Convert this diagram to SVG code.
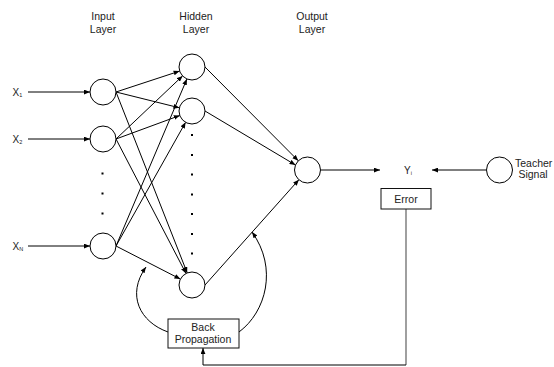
<svg xmlns="http://www.w3.org/2000/svg" width="554" height="367" viewBox="0 0 554 367">
<style>
text{font-family:"Liberation Sans",Arial,sans-serif;font-size:10.5px;fill:#222;text-anchor:middle}
.n{fill:#fff;stroke:#000;stroke-width:1}
.c{fill:none;stroke:#000;stroke-width:1;marker-end:url(#ah)}
.b{fill:#fff;stroke:#111;stroke-width:1}
.dot{fill:#000}
.sub{font-size:5.5px}
.x{font-size:10px;text-anchor:start}
</style>
<defs>
<marker id="ah" viewBox="0 0 10 8" refX="10" refY="4" markerWidth="6" markerHeight="5" markerUnits="userSpaceOnUse" orient="auto">
<path d="M0,0 L10,4 L0,8 z" fill="#000"/>
</marker>
</defs>
<rect width="554" height="367" fill="#fff"/>
<g id="labels">
<text x="103" y="19.5">Input</text><text x="103" y="32.5">Layer</text>
<text x="196" y="19.5">Hidden</text><text x="196" y="32.5">Layer</text>
<text x="312" y="19.5">Output</text><text x="312" y="32.5">Layer</text>
<text class="x" x="12.5" y="96">X<tspan class="sub" dy="0.5">1</tspan></text>
<text class="x" x="12.5" y="143">X<tspan class="sub" dy="0.5">2</tspan></text>
<text class="x" x="12.5" y="250">X<tspan class="sub" dy="0.5">N</tspan></text>
<text x="408" y="174" style="font-size:10px">Y<tspan class="sub" dy="1">i</tspan></text>
</g>
<g id="connectors">
<line class="c" x1="28" y1="92" x2="90" y2="92"/>
<line class="c" x1="28" y1="139" x2="90" y2="139"/>
<line class="c" x1="28" y1="246" x2="90" y2="246"/>
<line class="c" x1="116" y1="92" x2="179.6" y2="71.1"/>
<line class="c" x1="116" y1="92" x2="179.4" y2="107.8"/>
<line class="c" x1="116" y1="92" x2="187.2" y2="272.9"/>
<line class="c" x1="116" y1="139" x2="182.6" y2="75.9"/>
<line class="c" x1="116" y1="139" x2="179.8" y2="115.5"/>
<line class="c" x1="116" y1="139" x2="186" y2="273.5"/>
<line class="c" x1="116" y1="246" x2="186.9" y2="79"/>
<line class="c" x1="116" y1="246" x2="185.6" y2="122.3"/>
<line class="c" x1="116" y1="246" x2="180.4" y2="279.1"/>
<line class="c" x1="205" y1="67" x2="298.3" y2="160.8"/>
<line class="c" x1="205" y1="111" x2="295.5" y2="165"/>
<line class="c" x1="205" y1="285" x2="298.9" y2="179.7"/>
<line class="c" x1="321" y1="170" x2="380" y2="170"/>
<line class="c" x1="486" y1="170" x2="432" y2="170"/>
<path class="c" d="M168,332 C140,322 126,295 146,267"/>
<path class="c" d="M239,332 C266,312 278,268 252,232"/>
<path d="M406,209 L406,365" fill="none" stroke="#777" stroke-width="1.4"/>
<path class="c" d="M406,365 L203,365 L203,348"/>
</g>
<g id="input1"><circle class="n" cx="103" cy="92" r="13"/></g>
<g id="input2"><circle class="n" cx="103" cy="139" r="13"/></g>
<g id="inputN"><circle class="n" cx="103" cy="246" r="13"/></g>
<g id="input-dots">
<rect class="dot" x="101.5" y="172.5" width="2" height="2"/>
<rect class="dot" x="101.5" y="192.5" width="2" height="2"/>
<rect class="dot" x="101.5" y="212.5" width="2" height="2"/>
</g>
<g id="hidden1"><circle class="n" cx="192" cy="67" r="13"/></g>
<g id="hidden2"><circle class="n" cx="192" cy="111" r="13"/></g>
<g id="hiddenN"><circle class="n" cx="192" cy="285" r="13"/></g>
<g id="hidden-dots">
<rect class="dot" x="191" y="134" width="2" height="2"/>
<rect class="dot" x="191" y="154" width="2" height="2"/>
<rect class="dot" x="191" y="173.5" width="2" height="2"/>
<rect class="dot" x="191" y="193.5" width="2" height="2"/>
<rect class="dot" x="191" y="213" width="2" height="2"/>
<rect class="dot" x="191" y="233" width="2" height="2"/>
<rect class="dot" x="191" y="252.5" width="2" height="2"/>
</g>
<g id="output"><circle class="n" cx="307.5" cy="170" r="13"/></g>
<g id="teacher"><circle class="n" cx="499.5" cy="170" r="13"/>
<text x="515" y="167" style="text-anchor:start">Teacher</text><text x="533" y="178">Signal</text></g>
<g id="error"><rect class="b" x="381" y="188.5" width="50" height="20.5"/>
<text x="406" y="202.5">Error</text></g>
<g id="backprop"><rect class="b" x="168" y="319" width="71" height="29"/>
<text x="203" y="330.5">Back</text><text x="203" y="343">Propagation</text></g>
</svg>
